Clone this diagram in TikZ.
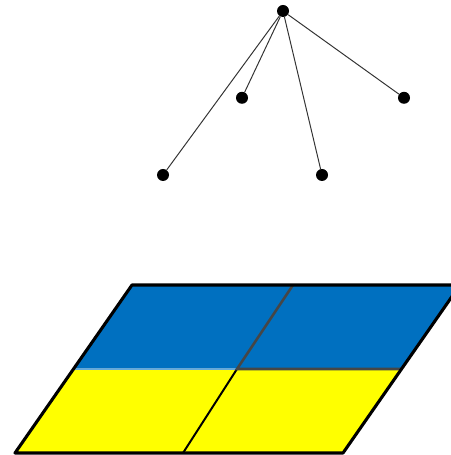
\documentclass[tikz,border=0pt]{standalone}
\usetikzlibrary{positioning}
\definecolor{cellBlue}{RGB}{0,112,192}
\definecolor{cellYellow}{RGB}{255,255,0}
\definecolor{edgeGray}{RGB}{70,70,70}

\begin{document}
\begin{tikzpicture}[
    dot/.style={circle, fill=black, inner sep=0pt, minimum size=0.3cm},
    branch/.style={line width=0.7pt, black!80}
  ]
  \useasboundingbox (0,0) rectangle (11.25,11.375);

  % Árbol: raíz y hojas
  \node[dot] (root) at (7.075,11.1) {};
  \node[dot] (leafA) at (6.05,8.93) {};
  \node[dot] (leafB) at (10.1,8.93) {};
  \node[dot] (leafC) at (4.075,7.0) {};
  \node[dot] (leafD) at (8.05,7.0) {};

  \draw[branch] (root) -- (leafA);
  \draw[branch] (root) -- (leafB);
  \draw[branch] (root) -- (leafC);
  \draw[branch] (root) -- (leafD);

  % Celdas azules (arriba) y amarillas (abajo)
  \fill[cellBlue] (3.3,4.25) -- (7.325,4.25) -- (5.925,2.15) -- (1.85,2.15) -- cycle;
  \fill[cellBlue] (7.325,4.25) -- (11.5,4.25) -- (10.05,2.15) -- (5.925,2.15) -- cycle;
  \fill[cellYellow] (1.85,2.15) -- (5.925,2.15) -- (4.575,0.05) -- (0.375,0.05) -- cycle;
  \fill[cellYellow] (5.925,2.15) -- (10.05,2.15) -- (8.575,0.05) -- (4.575,0.05) -- cycle;

  % Divisiones interiores
  \draw[cellBlue!60, line width=0.8pt] (1.85,2.15) -- (5.925,2.15);
  \draw[black, line width=1.4pt] (5.925,2.15) -- (4.575,0.05);
  \draw[edgeGray, line width=1.8pt] (7.325,4.25) -- (5.925,2.15) -- (10.05,2.15);

  % Borde exterior
  \draw[black, line width=2.2pt, line join=round]
    (3.3,4.25) -- (11.5,4.25) -- (8.575,0.05) -- (0.375,0.05) -- cycle;
\end{tikzpicture}
\end{document}
